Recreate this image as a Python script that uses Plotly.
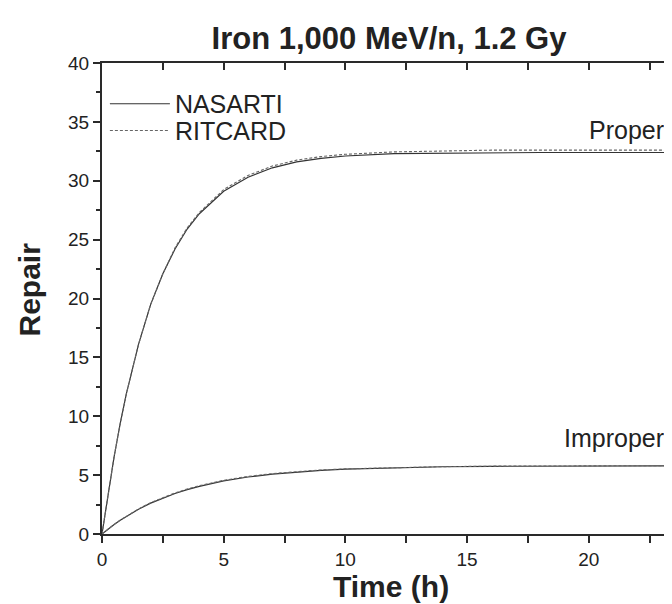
import plotly.graph_objects as go

# time points (h)
t = [0, 0.25, 0.5, 0.75, 1, 1.5, 2, 2.5, 3, 3.5, 4, 5, 6, 7, 8, 9, 10, 12, 14, 16, 18, 20, 22, 24]

proper_nasarti = [0, 3.5, 6.6, 9.4, 11.9, 16.1, 19.5, 22.1, 24.2, 25.9, 27.2, 29.1, 30.3, 31.1,
                  31.6, 31.9, 32.1, 32.3, 32.35, 32.4, 32.4, 32.4, 32.4, 32.4]
proper_ritcard = [0, 3.5, 6.6, 9.4, 11.9, 16.1, 19.5, 22.1, 24.3, 26.0, 27.3, 29.25, 30.45, 31.25,
                  31.75, 32.05, 32.25, 32.45, 32.55, 32.6, 32.6, 32.6, 32.6, 32.6]
improper_nasarti = [0, 0.42, 0.81, 1.17, 1.5, 2.1, 2.62, 3.06, 3.44, 3.77, 4.05, 4.51, 4.84, 5.09,
                    5.27, 5.41, 5.51, 5.64, 5.71, 5.75, 5.77, 5.78, 5.79, 5.8]
improper_ritcard = [0, 0.42, 0.82, 1.18, 1.52, 2.13, 2.66, 3.1, 3.49, 3.82, 4.1, 4.56, 4.89, 5.13,
                    5.3, 5.44, 5.53, 5.65, 5.72, 5.76, 5.78, 5.79, 5.8, 5.81]

series_names = ["NASARTI", "RITCARD"]
curve_labels = ["Proper", "Improper"]
title_text = "Iron 1,000 MeV/n, 1.2 Gy"
x_title = "Time (h)"
y_title = "Repair"

x_max = 23.75
y_max = 40
x_major = [0, 5, 10, 15, 20]
x_minor = [2.5, 7.5, 12.5, 17.5, 22.5]
y_major = [0, 5, 10, 15, 20, 25, 30, 35, 40]
y_minor = [2.5, 7.5, 12.5, 17.5, 22.5, 27.5, 32.5, 37.5]

solid = dict(color="#333333", width=1.2)
dashed = dict(color="#666666", width=1.1, dash="3px,2px")

fig = go.Figure()
fig.add_trace(go.Scatter(x=t, y=proper_nasarti, mode="lines", line=solid, name=series_names[0],
                         legendgroup="n", legend="legend"))
fig.add_trace(go.Scatter(x=t, y=proper_ritcard, mode="lines", line=dashed, name=series_names[1],
                         legendgroup="r", legend="legend2"))
fig.add_trace(go.Scatter(x=t, y=improper_nasarti, mode="lines", line=solid, showlegend=False,
                         legendgroup="n"))
fig.add_trace(go.Scatter(x=t, y=improper_ritcard, mode="lines", line=dashed, showlegend=False,
                         legendgroup="r"))
# invisible trace to activate the top/right axes
fig.add_trace(go.Scatter(x=[0], y=[0], xaxis="x2", yaxis="y2", mode="markers",
                         marker=dict(opacity=0), showlegend=False, hoverinfo="skip"))

sans = "Liberation Sans, Arial, sans-serif"
axis_font = dict(family=sans, size=19, color="#222")
bold_font = dict(family=sans, size=30, color="#222")
label_font = dict(family=sans, size=25, color="#222")

tk = dict(tickcolor="#2a2a2a", tickwidth=2)
common = dict(showgrid=False, zeroline=False, linecolor="#2a2a2a", linewidth=2, **tk)

legend_common = dict(xanchor="left", yanchor="middle", bgcolor="rgba(0,0,0,0)",
                     font=label_font, itemwidth=60, tracegroupgap=0)

fig.update_layout(
    width=672, height=604,
    margin=dict(l=94, r=0, t=55, b=78),
    paper_bgcolor="white", plot_bgcolor="white",
    title=dict(text="<b>" + title_text + "</b>", x=0.567, xanchor="center", y=0.95,
               yanchor="middle", font=dict(family=sans, size=31, color="#222")),
    xaxis=dict(range=[0, x_max], tickvals=x_major, ticks="outside", ticklen=7,
               showline=True, tickfont=axis_font,
               minor=dict(tickvals=x_minor, ticks="outside", ticklen=7, **tk),
               **common),
    yaxis=dict(range=[0, y_max], tickvals=y_major, ticks="outside",
               ticklen=7, showline=True, tickfont=axis_font,
               minor=dict(tickvals=y_minor, ticks="outside", ticklen=4, **tk),
               **common),
    xaxis2=dict(range=[0, x_max], overlaying="x", side="top", tickvals=x_major,
                ticks="inside", ticklen=7, showticklabels=False, showline=True,
                minor=dict(tickvals=x_minor, ticks="inside", ticklen=7, **tk),
                **common),
    yaxis2=dict(range=[0, y_max], overlaying="y", side="right", tickvals=y_major,
                ticks="inside", ticklen=7, showticklabels=False, showline=False,
                showgrid=False, zeroline=False,
                minor=dict(tickvals=y_minor, ticks="inside", ticklen=4, **tk), **tk),
    legend=dict(x=0.005, y=0.913, **legend_common),
    legend2=dict(x=0.005, y=0.856, **legend_common),
    showlegend=True,
)

# axis titles
fig.add_annotation(x=0.5, y=-0.111, xref="paper", yref="paper", text="<b>" + x_title + "</b>",
                   showarrow=False, xanchor="center", yanchor="middle", font=bold_font,
                   borderpad=0)
fig.add_annotation(x=-0.1246, y=0.519, xref="paper", yref="paper", text="<b>" + y_title + "</b>",
                   showarrow=False, xanchor="center", yanchor="middle", textangle=-90,
                   font=bold_font, borderpad=0)

# curve labels
fig.add_annotation(x=23.17, y=34.3, text=curve_labels[0], showarrow=False, xanchor="right",
                   yanchor="middle", font=label_font)
fig.add_annotation(x=23.17, y=8.15, text=curve_labels[1], showarrow=False, xanchor="right",
                   yanchor="middle", font=label_font)

fig.write_html("out.html")
